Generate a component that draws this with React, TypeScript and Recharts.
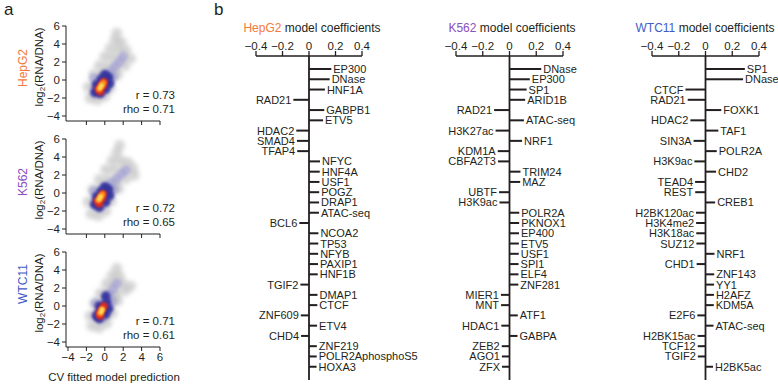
import React from "react";
import {
  ScatterChart,
  Scatter,
  BarChart,
  Bar,
  XAxis,
  YAxis,
  ReferenceLine,
} from "recharts";

const FONT = "'Liberation Sans', Arial, sans-serif";
const INK = "#231f20";

// ---- panel b: model coefficients ----
const hepg2Names = [
  "EP300", "DNase", "HNF1A", "RAD21", "GABPB1", "ETV5", "HDAC2", "SMAD4", "TFAP4", "NFYC",
  "HNF4A", "USF1", "POGZ", "DRAP1", "ATAC-seq", "BCL6", "NCOA2", "TP53", "NFYB", "PAXIP1",
  "HNF1B", "TGIF2", "DMAP1", "CTCF", "ZNF609", "ETV4", "CHD4", "ZNF219", "POLR2AphosphoS5", "HOXA3",
];
const hepg2Coef = [
  0.168, 0.156, 0.12, -0.118, 0.115, 0.106, -0.096, -0.091, -0.089, 0.083,
  0.081, 0.079, 0.077, 0.076, 0.075, -0.073, 0.071, 0.07, 0.069, 0.068,
  0.066, -0.065, 0.064, 0.063, -0.062, 0.061, -0.06, 0.059, 0.058, 0.057,
];

const k562Names = [
  "DNase", "EP300", "SP1", "ARID1B", "RAD21", "ATAC-seq", "H3K27ac", "NRF1", "KDM1A", "CBFA2T3",
  "TRIM24", "MAZ", "UBTF", "H3K9ac", "POLR2A", "PKNOX1", "EP400", "ETV5", "USF1", "SPI1",
  "ELF4", "ZNF281", "MIER1", "MNT", "ATF1", "HDAC1", "GABPA", "ZEB2", "AGO1", "ZFX",
];
const k562Coef = [
  0.237, 0.152, 0.128, 0.117, -0.115, 0.108, -0.104, 0.094, -0.088, -0.086,
  0.082, 0.08, -0.078, -0.075, 0.073, 0.072, 0.071, 0.07, 0.069, 0.068,
  0.067, 0.066, -0.064, -0.063, 0.062, -0.061, 0.06, -0.058, -0.057, -0.056,
];

const wtc11Names = [
  "SP1", "DNase", "CTCF", "RAD21", "FOXK1", "HDAC2", "TAF1", "SIN3A", "POLR2A", "H3K9ac",
  "CHD2", "TEAD4", "REST", "CREB1", "H2BK120ac", "H3K4me2", "H3K18ac", "SUZ12", "NRF1", "CHD1",
  "ZNF143", "YY1", "H2AFZ", "KDM5A", "E2F6", "ATAC-seq", "H2BK15ac", "TCF12", "TGIF2", "H2BK5ac",
];
const wtc11Coef = [
  0.294, 0.281, -0.15, -0.133, 0.118, -0.113, 0.096, -0.089, 0.084, -0.083,
  0.079, -0.078, -0.077, 0.072, -0.071, -0.07, -0.069, -0.068, 0.067, -0.066,
  0.065, 0.064, 0.063, 0.062, -0.061, 0.06, -0.059, -0.058, -0.057, 0.056,
];

const coefTicks = [-0.4, -0.2, 0, 0.2, 0.4];

// ---- panel a: density clouds ----
const axisTicks = [-4, -2, 0, 2, 4, 6];

const hepg2Grey = [
  [-1.6, -2.0], [-0.8, -2.2], [0.0, -1.8], [-1.8, -0.8], [-1.0, -0.6], [-0.2, -0.8], [0.6, -0.9],
  [-1.2, 0.6], [-0.3, 0.6], [0.6, 0.3], [1.4, 0.6], [-0.6, 1.6], [0.3, 1.5], [1.2, 1.5],
  [2.2, 1.6], [0.0, 2.6], [0.9, 2.5], [1.8, 2.4], [2.8, 2.4], [0.6, 3.5], [1.5, 3.4],
  [2.3, 3.3], [1.1, 4.4], [1.8, 4.2], [1.3, 5.2], [-0.6, -1.2], [0.4, -0.2], [1.0, 0.9],
];
const hepg2Lav = [[-1.0, -1.0], [-0.5, -0.2], [0.1, 0.4], [0.6, 0.9], [1.1, 1.5], [1.6, 2.0], [2.0, 2.6], [-0.2, -1.2], [0.4, -0.3], [-1.2, 0.2], [0.9, 0.3]];
const hepg2Blue = [[-1.1, -1.4], [-0.7, -1.0], [-0.3, -0.6], [0.1, -0.2], [0.4, 0.3], [-0.9, -0.5], [-0.4, 0.1], [0.0, 0.6], [-0.5, -1.5], [0.1, -1.0], [0.5, -0.4]];
const hepg2Red = [[-0.7, -1.0], [-0.4, -0.6], [-0.1, -0.2], [-0.5, -1.3], [-0.2, -0.7]];
const hepg2Orange = [[-0.6, -1.0], [-0.35, -0.6], [-0.15, -0.3]];
const hepg2Yellow = [[-0.5, -0.9], [-0.35, -0.6]];

const k562Grey = [
  [-1.5, -2.3], [-0.7, -2.5], [0.1, -2.0], [-1.8, -1.0], [-1.0, -0.8], [-0.2, -1.0], [0.7, -0.9],
  [-1.3, 0.4], [-0.4, 0.5], [0.6, 0.3], [1.5, 0.5], [-0.6, 1.5], [0.3, 1.5], [1.3, 1.5],
  [2.3, 1.6], [3.2, 2.0], [0.1, 2.6], [1.0, 2.6], [2.0, 2.6], [3.0, 2.8], [0.8, 3.6],
  [1.7, 3.6], [2.5, 3.4], [1.3, 4.5], [1.6, 5.3], [-0.6, -1.4], [0.4, -0.3], [1.1, 0.9],
];
const k562Lav = [[-1.0, -1.0], [-0.5, -0.2], [0.1, 0.5], [0.7, 1.1], [1.3, 1.6], [1.8, 2.1], [2.3, 2.5], [-0.2, -1.2], [0.4, -0.2], [-1.2, 0.2], [1.0, 0.4]];
const k562Blue = [[-1.1, -1.3], [-0.7, -0.9], [-0.3, -0.5], [0.1, -0.1], [0.4, 0.4], [-0.9, -0.4], [-0.4, 0.2], [0.0, 0.7], [-0.6, -1.6], [0.1, -1.0], [0.5, -0.3]];
const k562Red = [[-0.8, -0.9], [-0.5, -0.5], [-0.2, -0.1], [-0.6, -1.2], [-0.3, -0.6]];
const k562Orange = [[-0.7, -0.8], [-0.45, -0.45], [-0.25, -0.15]];
const k562Yellow = [[-0.6, -0.7], [-0.45, -0.4]];

const wtc11Grey = [
  [-1.4, -2.2], [-0.6, -2.4], [0.2, -1.9], [-1.6, -1.1], [-0.8, -0.8], [0.0, -1.0], [0.8, -0.8],
  [-1.1, 0.3], [-0.3, 0.5], [0.6, 0.3], [1.4, 0.6], [-0.5, 1.4], [0.3, 1.5], [1.2, 1.5],
  [2.2, 1.7], [0.2, 2.5], [1.0, 2.5], [1.9, 2.5], [2.8, 2.2], [0.8, 3.4], [1.6, 3.3], [1.3, 4.2],
  [-0.5, -1.4], [0.4, -0.3], [1.0, 0.9],
];
const wtc11Lav = [[-0.9, -1.0], [-0.4, -0.2], [0.1, 0.6], [0.5, 1.3], [0.9, 1.9], [1.3, 2.5], [0.3, -0.3], [-0.2, -1.3], [-1.0, 0.3], [0.8, 0.5]];
const wtc11Blue = [[-0.9, -1.1], [-0.5, -0.7], [-0.1, -0.2], [0.2, 0.4], [-0.6, -1.4], [0.1, -0.9], [0.1, 1.1], [-0.6, 0.0], [0.4, -0.3]];
const wtc11Red = [[-0.6, -0.8], [-0.3, -0.4], [-0.1, 0.0], [-0.5, -1.1]];
const wtc11Orange = [[-0.5, -0.8], [-0.3, -0.4]];
const wtc11Yellow = [[-0.4, -0.7], [-0.3, -0.4]];

const minus = (v: number) => String(v).replace("-", "\u2212");

const toPts = (arr: number[][]) => arr.map(([x, y]) => ({ x, y }));

const dot = (r: number, fill: string, opacity: number, blur: string) => (props: any) => (
  <circle cx={props.cx} cy={props.cy} r={r} fill={fill} fillOpacity={opacity} filter={`url(#${blur})`} />
);

// radius, colour, opacity, blur filter for each density layer
const layerStyles: [number, string, number, string][] = [
  [5.5, "#bdbdbd", 0.6, "blurWide"],
  [5, "#9f9dd4", 0.6, "blurMid"],
  [4.8, "#34329e", 0.95, "blurMid"],
  [3.8, "#dc2b22", 1, "blurSoft"],
  [3, "#ff8a1c", 1, "blurSoft"],
  [2.3, "#ffe25a", 1, "blurSoft"],
];

function Density({ top, layers, showLabels }: { top: number; layers: number[][][]; showLabels: boolean }) {
  return (
    <div style={{ position: "absolute", left: 0, top }}>
      <ScatterChart width={180} height={150} margin={{ top: 26, right: 20, left: 36, bottom: 9 }}>
        <XAxis
          type="number"
          dataKey="x"
          domain={[-4, 6]}
          ticks={axisTicks}
          padding={{ left: 2, right: 0 }}
          height={20}
          stroke={INK}
          tickSize={4}
          tickMargin={2}
          tickFormatter={minus}
          tick={showLabels ? { fill: INK, fontSize: 11.5, fontFamily: FONT } : () => <g />}
        />
        <YAxis
          type="number"
          dataKey="y"
          domain={[-4, 6]}
          ticks={axisTicks}
          padding={{ top: 0, bottom: 5 }}
          width={30}
          stroke={INK}
          tickSize={4}
          tickMargin={2}
          tickFormatter={minus}
          tick={{ fill: INK, fontSize: 11.5, fontFamily: FONT }}
        />
        {layers.map((s, i) => (
          <Scatter
            key={i}
            data={toPts(s)}
            isAnimationActive={false}
            shape={dot(layerStyles[i][0], layerStyles[i][1], layerStyles[i][2], layerStyles[i][3])}
          />
        ))}
      </ScatterChart>
    </div>
  );
}

const coefBar = (props: any) => {
  const { x, y, width, height, payload } = props;
  const l = Math.min(x, x + width);
  const r = Math.max(x, x + width);
  const neg = payload.value < 0;
  return (
    <g>
      <rect x={l} y={y} width={r - l} height={height} fill={INK} />
      <text
        x={neg ? l - 2 : r + 2}
        y={y + height / 2}
        textAnchor={neg ? "end" : "start"}
        dominantBaseline="central"
        fontSize={11}
        fontFamily={FONT}
        fill={INK}
      >
        {payload.name}
      </text>
    </g>
  );
};

function Coefs({ names, coefs, left, width, mLeft, mRight }: any) {
  const data = names.map((n: string, i: number) => ({ name: n, value: coefs[i] }));
  return (
    <div style={{ position: "absolute", left, top: 0 }}>
      <BarChart
        layout="vertical"
        width={width}
        height={385}
        data={data}
        margin={{ top: 26, right: mRight, left: mLeft, bottom: 5 }}
      >
        <XAxis
          type="number"
          orientation="top"
          domain={[-0.4, 0.4]}
          ticks={coefTicks}
          height={30}
          stroke={INK}
          strokeWidth={1.3}
          tickSize={5}
          tickMargin={1}
          tickFormatter={minus}
          tick={{ fill: INK, fontSize: 11.5, fontFamily: FONT }}
        />
        <YAxis type="category" dataKey="name" hide padding={{ top: 8, bottom: 8 }} />
        <ReferenceLine x={0} stroke={INK} strokeWidth={1.8} />
        <Bar dataKey="value" barSize={2} isAnimationActive={false} shape={coefBar} />
      </BarChart>
    </div>
  );
}

const cells = [
  { name: "HepG2", color: "#f47a3a", r: "r = 0.73", rho: "rho = 0.71", labelY: 68, logY: 67 },
  { name: "K562", color: "#8b4fc0", r: "r = 0.72", rho: "rho = 0.65", labelY: 182, logY: 180 },
  { name: "WTC11", color: "#3f5cc8", r: "r = 0.71", rho: "rho = 0.61", labelY: 284, logY: 293 },
];

export default function App() {
  const tops = [0, 113, 226];
  return (
    <div style={{ position: "absolute", left: 0, top: 0, width: 778, height: 385, background: "#fff", overflow: "hidden", fontFamily: FONT }}>
      <svg width={0} height={0} style={{ position: "absolute" }}>
        <defs>
          <filter id="blurWide" x="-100%" y="-100%" width="300%" height="300%">
            <feGaussianBlur stdDeviation={2.2} />
          </filter>
          <filter id="blurMid" x="-100%" y="-100%" width="300%" height="300%">
            <feGaussianBlur stdDeviation={1.6} />
          </filter>
          <filter id="blurSoft" x="-100%" y="-100%" width="300%" height="300%">
            <feGaussianBlur stdDeviation={1} />
          </filter>
        </defs>
      </svg>

      <Density top={tops[0]} layers={[hepg2Grey, hepg2Lav, hepg2Blue, hepg2Red, hepg2Orange, hepg2Yellow]} showLabels={false} />
      <Density top={tops[1]} layers={[k562Grey, k562Lav, k562Blue, k562Red, k562Orange, k562Yellow]} showLabels={false} />
      <Density top={tops[2]} layers={[wtc11Grey, wtc11Lav, wtc11Blue, wtc11Red, wtc11Orange, wtc11Yellow]} showLabels />

      <Coefs names={hepg2Names} coefs={hepg2Coef} left={200} width={220} mLeft={56} mRight={58} />
      <Coefs names={k562Names} coefs={k562Coef} left={400} width={220} mLeft={56} mRight={57} />
      <Coefs names={wtc11Names} coefs={wtc11Coef} left={600} width={180} mLeft={52} mRight={21} />

      <svg width={778} height={385} style={{ position: "absolute", left: 0, top: 0, pointerEvents: "none" }}>
        <g fontFamily={FONT} fill={INK}>
          <text x={4} y={15} fontSize={17}>a</text>
          <text x={214} y={15} fontSize={17}>b</text>

          <text x={312} y={31.5} fontSize={12} textAnchor="middle">
            <tspan fill={cells[0].color}>HepG2</tspan> model coefficients
          </text>
          <text x={512} y={31.5} fontSize={12} textAnchor="middle">
            <tspan fill={cells[1].color}>K562</tspan> model coefficients
          </text>
          <text x={705} y={31.5} fontSize={12} textAnchor="middle">
            <tspan fill={cells[2].color}>WTC11</tspan> model coefficients
          </text>

          {cells.map((c, i) => (
            <g key={c.name}>
              <text
                transform={`translate(23,${c.labelY}) rotate(-90)`}
                textAnchor="middle"
                dominantBaseline="central"
                fontSize={12}
                fill={c.color}
              >
                {c.name}
              </text>
              <text
                transform={`translate(39,${c.logY}) rotate(-90)`}
                textAnchor="middle"
                dominantBaseline="central"
                fontSize={11.5}
              >
                log<tspan fontSize={8} dy={3}>2</tspan>
                <tspan dy={-3}>(RNA/DNA)</tspan>
              </text>
              <text x={175} y={tops[i] + 99} fontSize={11.5} textAnchor="end">{c.r}</text>
              <text x={175} y={tops[i] + 113} fontSize={11.5} textAnchor="end">{c.rho}</text>
            </g>
          ))}

          <text x={114} y={381} fontSize={11.5} textAnchor="middle">CV fitted model prediction</text>
        </g>
      </svg>
    </div>
  );
}
